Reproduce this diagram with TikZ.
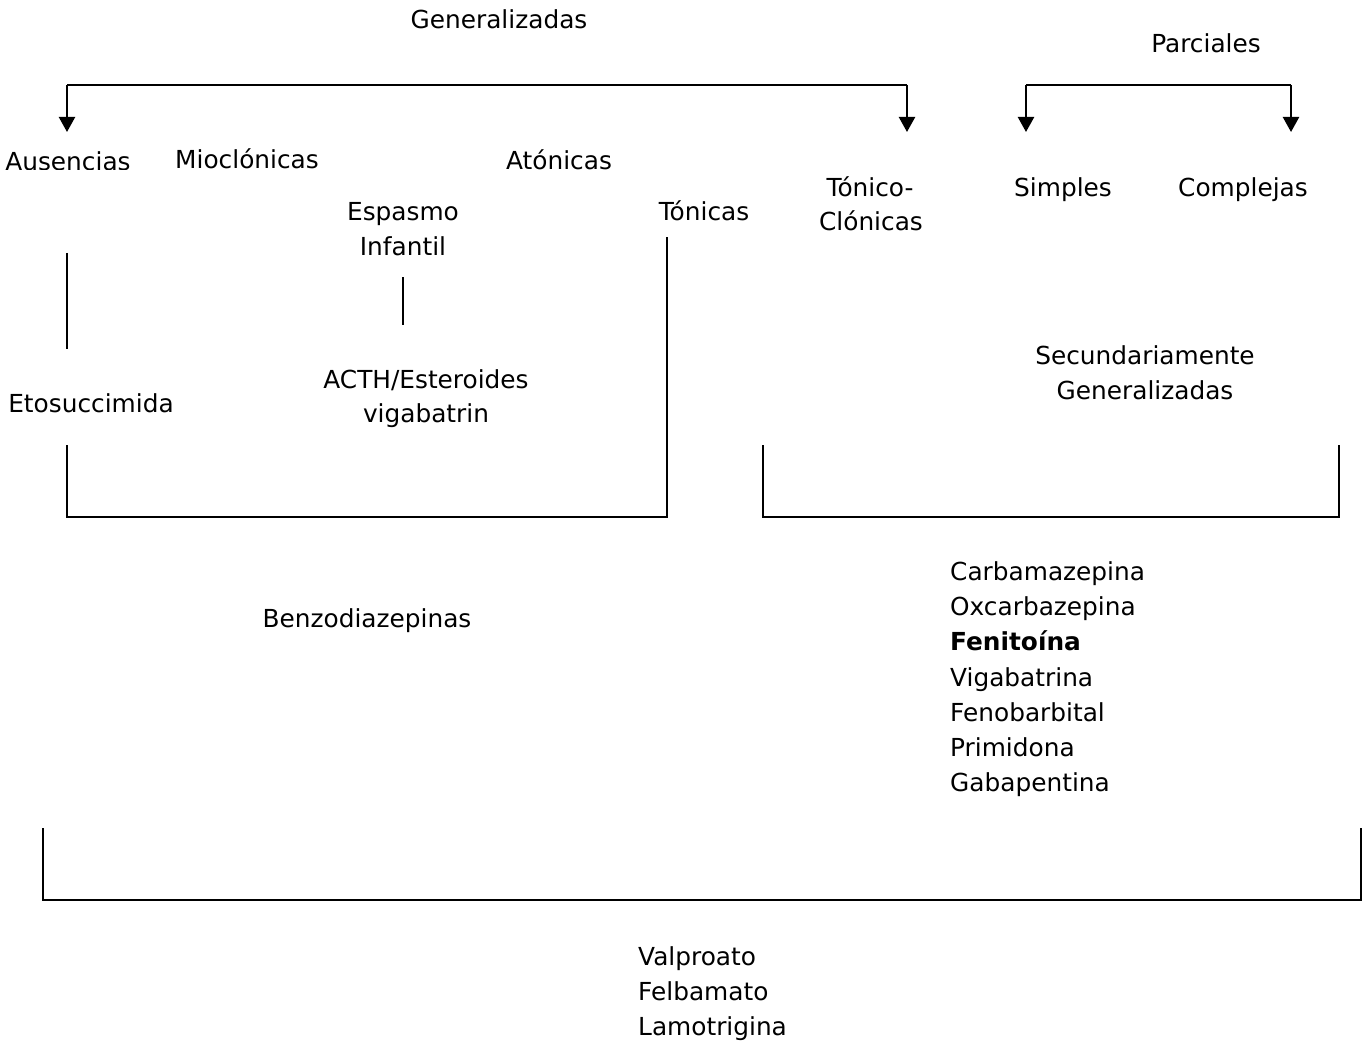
\documentclass[tikz,border=0pt]{standalone}
\usepackage{fontspec}
\setmainfont{DejaVu Sans}
\usetikzlibrary{arrows.meta}
\begin{document}
\begin{tikzpicture}[x=1pt,y=-1pt,
  lbl/.style={inner sep=0pt,anchor=base,font=\fontsize{24.8}{28}\selectfont},
  lst/.style={inner sep=0pt,anchor=base west,font=\fontsize{24.8}{28}\selectfont},
  ln/.style={line width=2.2pt},
  arr/.style={line width=2.2pt,-{Triangle[length=15pt,width=16pt]}}]
\useasboundingbox[fill=white] (0,0) rectangle (1363,1043);
% top level
\node[lbl] (gen) at (499,29) {Generalizadas};
\node[lbl] (par) at (1206,53) {Parciales};
% arrows
\coordinate (g1) at (67,85);
\coordinate (g2) at (907,85);
\coordinate (g1t) at (67,132);
\coordinate (g2t) at (907,132);
\draw[ln] (g1) -- (g2);
\draw[arr] (g1) -- (g1t);
\draw[arr] (g2) -- (g2t);
\coordinate (p1) at (1026,85);
\coordinate (p2) at (1291,85);
\coordinate (p1t) at (1026,132);
\coordinate (p2t) at (1291,132);
\draw[ln] (p1) -- (p2);
\draw[arr] (p1) -- (p1t);
\draw[arr] (p2) -- (p2t);
% seizure types
\begin{scope}
\clip (0,140) rectangle (200,170);
\node[lbl] (aus) at (68,171) {Ausencias};
\end{scope}
\node[lbl] (mio) at (247,169) {Mioclónicas};
\node[lbl] (ato) at (559,170) {Atónicas};
\node[lbl] (esp) at (403,221) {Espasmo};
\node[lbl] (inf) at (403,255) {Infantil};
\node[lbl] (ton) at (704,221) {Tónicas};
\node[lbl] (tc1) at (870,197) {Tónico-};
\node[lbl] (tc2) at (871,231) {Clónicas};
\node[lbl] (sim) at (1063,197) {Simples};
\node[lbl] (com) at (1243,197) {Complejas};
% drugs
\node[lbl] (eto) at (91,412) {Etosuccimida};
\node[lbl] (acth) at (426,388) {ACTH/Esteroides};
\node[lbl] (vig) at (426,422) {vigabatrin};
\node[lbl] (sec1) at (1145,364) {Secundariamente};
\node[lbl] (sec2) at (1145,399) {Generalizadas};
% connectors
\coordinate (a1) at (67,253);
\coordinate (a2) at (67,349);
\draw[ln] (a1) -- (a2);
\coordinate (e1) at (403,277);
\coordinate (e2) at (403,325);
\draw[ln] (e1) -- (e2);
% brackets
\coordinate (b1) at (67,445);
\coordinate (b2) at (67,517);
\coordinate (b3) at (667,517);
\coordinate (b4) at (667,237);
\draw[ln] (b1) -- (b2) -- (b3) -- (b4);
\coordinate (c1) at (763,445);
\coordinate (c2) at (763,517);
\coordinate (c3) at (1339,517);
\coordinate (c4) at (1339,445);
\draw[ln] (c1) -- (c2) -- (c3) -- (c4);
\node[lbl] (benzo) at (367,627) {Benzodiazepinas};
\node[lst] (d1) at (950,580) {Carbamazepina};
\node[lst] (d2) at (950,615) {Oxcarbazepina};
\node[lst] (d3) at (950,650) {\bfseries Fenitoína};
\node[lst] (d4) at (950,686) {Vigabatrina};
\node[lst] (d5) at (950,721) {Fenobarbital};
\node[lst] (d6) at (950,756) {Primidona};
\node[lst] (d7) at (950,791) {Gabapentina};
\coordinate (f1) at (43,828);
\coordinate (f2) at (43,900);
\coordinate (f3) at (1361,900);
\coordinate (f4) at (1361,828);
\draw[ln] (f1) -- (f2) -- (f3) -- (f4);
\node[lst] (v1) at (638,965) {Valproato};
\node[lst] (v2) at (638,1000) {Felbamato};
\node[lst] (v3) at (638,1035) {Lamotrigina};
\end{tikzpicture}
\end{document}
